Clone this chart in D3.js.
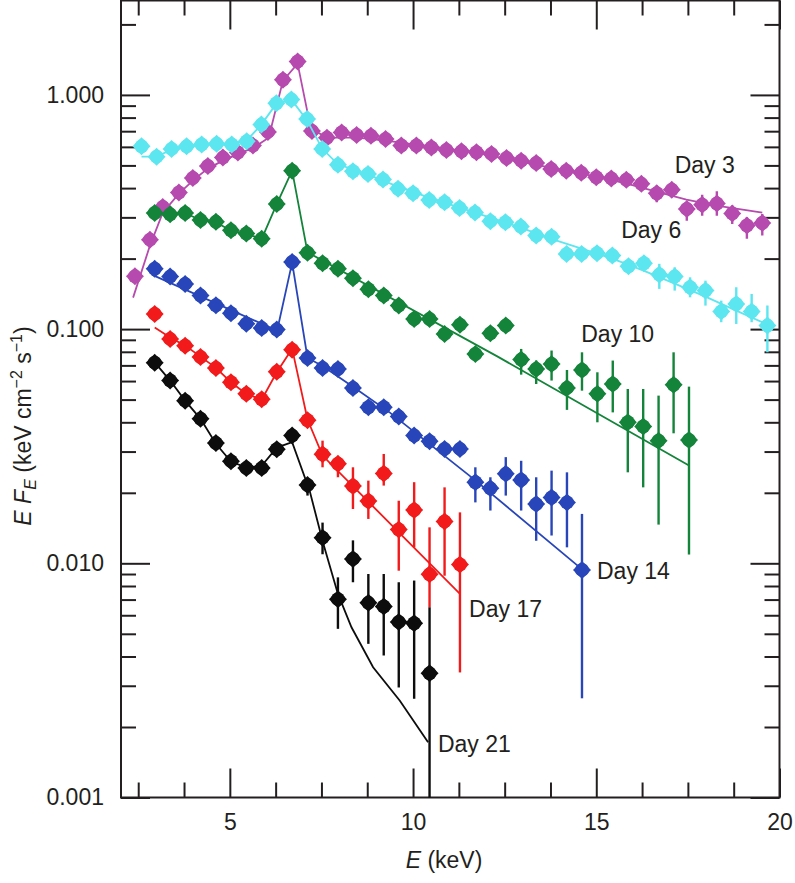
<!DOCTYPE html>
<html><head><meta charset="utf-8">
<script src="https://cdn.jsdelivr.net/npm/d3@7"></script>
<style>
body{margin:0;background:#fff}
svg{display:block}
text{font-family:"Liberation Sans",Arial,Helvetica,sans-serif;fill:#231f20}
</style>
</head><body><div id="chart"></div>
<script>
// ---------------- DATA ----------------
const seriesNames = ["Day 3","Day 6","Day 10","Day 14","Day 17","Day 21"];

// Day 3
const E3 = [2.41,2.82,3.17,3.61,3.99,4.40,4.81,5.22,5.63,6.04,6.45,6.85,7.24,7.65,8.05,8.46,8.85,9.25,9.68,10.09,10.50,10.91,11.32,11.73,12.14,12.55,12.95,13.36,13.77,14.18,14.59,15.00,15.41,15.82,16.23,16.65,17.06,17.47,17.89,18.29,18.71,19.11,19.53];
const V3 = [0.168,0.241,0.332,0.383,0.442,0.497,0.540,0.568,0.608,0.695,1.160,1.388,0.702,0.656,0.691,0.675,0.669,0.649,0.608,0.608,0.596,0.582,0.574,0.569,0.560,0.538,0.524,0.512,0.483,0.475,0.465,0.445,0.440,0.434,0.417,0.380,0.394,0.326,0.340,0.344,0.312,0.277,0.284];
const ERR3 = [[35,0.410,0.348],[36,0.418,0.366],[37,0.348,0.2905],[38,0.375,0.305],[39,0.388,0.305],[40,0.337,0.281],[41,0.300,0.243],[42,0.310,0.251]];
const M3E = [2.36,2.82,3.17,3.61,4.02,4.40,4.81,5.25,5.65,6.06,6.45,6.85,7.21,7.65,8.46,9.25,10.10,10.92,11.71,12.53,13.34,14.16,15.01,15.83,16.64,17.46,18.28,19.13,19.53];
const M3V = [0.1363,0.2273,0.3144,0.379,0.4348,0.4845,0.524,0.5615,0.5957,0.657,1.151,1.360,0.718,0.657,0.657,0.638,0.614,0.590,0.567,0.535,0.504,0.475,0.448,0.418,0.3865,0.357,0.337,0.321,0.314];

// Day 6
const E6 = [2.59,3.00,3.41,3.82,4.23,4.64,5.05,5.46,5.86,6.27,6.68,7.11,7.52,7.95,8.36,8.77,9.18,9.59,10.00,10.44,10.86,11.27,11.69,12.11,12.52,12.94,13.36,13.78,14.19,14.60,15.02,15.44,15.88,16.30,16.72,17.14,17.56,17.98,18.41,18.82,19.24,19.67];
const V6 = [0.603,0.545,0.588,0.603,0.614,0.618,0.614,0.634,0.747,0.921,0.955,0.790,0.588,0.503,0.472,0.460,0.435,0.397,0.380,0.356,0.348,0.329,0.315,0.289,0.286,0.274,0.251,0.248,0.2095,0.2095,0.211,0.206,0.1854,0.191,0.1709,0.1676,0.1509,0.146,0.119,0.128,0.119,0.1035];
const ERR6 = [[34,0.190,0.1485],[35,0.1836,0.146],[36,0.1664,0.1367],[37,0.161,0.126],[38,0.1323,0.107],[39,0.1509,0.1052],[40,0.1413,0.107],[41,0.126,0.0796]];
const M6E = [2.59,3.00,3.41,3.82,4.23,4.64,5.05,5.46,5.86,6.27,6.68,7.11,7.52,7.95,8.77,9.59,10.44,11.27,12.11,12.94,13.75,14.60,15.44,16.29,17.14,17.98,18.82,19.67];
const M6V = [0.545,0.545,0.584,0.6015,0.614,0.6196,0.6196,0.638,0.747,0.918,0.955,0.777,0.590,0.5055,0.4567,0.4061,0.3642,0.3301,0.2993,0.2713,0.2434,0.2207,0.200,0.1777,0.1564,0.1376,0.1199,0.1045];

// common energy grid for Days 10-21
const EG = [2.95,3.37,3.78,4.20,4.62,5.03,5.45,5.87,6.28,6.70,7.12,7.53,7.95,8.36,8.78,9.20,9.61,10.03,10.45,10.86,11.28,11.70,12.11,12.53,12.95,13.36,13.78,14.20,14.61,15.03,15.45,15.86,16.28,16.70,17.11,17.53];

// Day 10
const E10 = EG.slice(0,36);
const V10 = [0.313,0.309,0.313,0.292,0.287,0.264,0.256,0.243,0.342,0.475,0.212,0.191,0.181,0.165,0.148,0.139,0.126,0.1105,0.1105,0.0954,0.1045,0.0783,0.0959,0.1035,0.0741,0.0676,0.0710,0.0561,0.0669,0.0529,0.0583,0.0400,0.0384,0.0334,0.0578,0.0336];
const ERR10 = [[24,0.0823,0.0639],[25,0.0734,0.0583],[26,0.0810,0.0603],[27,0.0669,0.0452],[28,0.0796,0.0546],[29,0.0654,0.040],[30,0.0734,0.0441],[31,0.0555,0.02446],[32,0.0555,0.0211],[33,0.052,0.01463],[34,0.0796,0.0359],[35,0.0568,0.0109]];
const M10E = [2.87,3.37,3.78,4.20,4.62,5.03,5.45,5.87,6.28,6.70,7.12,12.31,17.53];
const M10V = [0.3125,0.3087,0.313,0.292,0.2858,0.2634,0.2549,0.243,0.342,0.475,0.2128,0.0763,0.02614];

// Day 14
const E14 = EG.slice(0,29);
const V14 = [0.181,0.1676,0.156,0.139,0.1265,0.117,0.1055,0.1010,0.0995,0.1935,0.0753,0.0683,0.0676,0.0561,0.0464,0.0464,0.0423,0.0351,0.0332,0.0308,0.0308,0.0222,0.0209,0.0241,0.0227,0.0179,0.0191,0.0182,0.00937];
const ERR14 = [[21,0.0257,0.0182],[22,0.0233,0.0168],[23,0.0284,0.01946],[24,0.0274,0.0168],[25,0.0233,0.01248],[26,0.02487,0.01314],[27,0.02446,0.0117],[28,0.01625,0.002652]];
const M14E = [2.87,6.29,6.70,7.12,7.52,8.36,9.36,11.71,14.63];
const M14V = [0.1709,0.0985,0.1923,0.0753,0.0698,0.0568,0.0441,0.02254,0.00937];

// Day 17
const E17 = EG.slice(0,21);
const V17 = [0.1161,0.0908,0.0850,0.0760,0.0683,0.0593,0.0529,0.0502,0.0657,0.0817,0.0408,0.0292,0.0266,0.02137,0.01846,0.0242,0.01395,0.0169,0.00897,0.0151,0.00988];
const ERR17 = [[11,0.0334,0.0257],[12,0.0284,0.0233],[13,0.0257,0.01706],[14,0.02254,0.01547],[15,0.0293,0.02147],[16,0.0185,0.0093],[17,0.0222,0.0117],[18,0.01424,0.00649],[19,0.0211,0.00885],[20,0.0165,0.00342]];
const M17E = [2.95,3.37,3.78,4.20,4.62,5.03,5.45,5.87,6.28,6.70,7.12,7.53,11.28];
const M17V = [0.1015,0.092,0.085,0.0763,0.0683,0.0593,0.0529,0.050,0.0654,0.0825,0.0411,0.02884,0.0074];

// Day 21
const E21 = EG.slice(0,19);
const V21 = [0.0719,0.0603,0.0495,0.0414,0.0326,0.0273,0.0255,0.0255,0.0307,0.0351,0.0216,0.01287,0.00703,0.01044,0.00678,0.00654,0.00562,0.00555,0.00339];
const ERR21 = [[10,0.0230,0.01946],[11,0.01492,0.01093],[12,0.00871,0.00525],[13,0.01253,0.0083],[14,0.0090,0.00453],[15,0.0090,0.00404],[16,0.0083,0.00295],[17,0.00844,0.00264],[18,0.00649,0.0008]];
const M21E = [2.91,3.37,3.78,4.20,4.62,5.03,5.45,5.87,6.28,6.70,7.18,7.54,7.95,8.32,8.91,9.64,10.41];
const M21V = [0.0734,0.0603,0.0495,0.0414,0.0324,0.0272,0.0256,0.0261,0.0312,0.0329,0.02037,0.01229,0.0074,0.00533,0.0036,0.00259,0.00172];

// label anchors (E, value)
const labelE = [17.14,15.68,14.59,15.02,11.53,10.68];
const labelV = [0.466,0.246,0.0878,0.0086,0.00592,0.00157];

// axis ticks
const xMajor = [5,10,15,20];
const xMinor = [2.5,3.75,6.25,7.5,8.75,11.25,12.5,13.75,16.25,17.5,18.75];
const yMajor = [0.001,0.01,0.1,1];
const yMajorLabels = ["0.001","0.010","0.100","1.000"];

// ---------------- STYLE ----------------
const colors = ["#b64aae","#5ce6f0","#13843a","#2846ba","#f21a1a","#0d0d0d"];
const axisColor = "#231f20";
const W = 795, H = 883;
const L = 121, R = 779.5, T = 0.5, B = 797.5;

const x = d3.scaleLinear().domain([2.03,20]).range([L,R]);
const y = d3.scaleLog().domain([0.001,2.53]).range([B,T]);

const yMinor = [];
[0.001,0.01,0.1,1].forEach(d=>{for(let m=2;m<=9;m++){const v=d*m; if(v<=2.53) yMinor.push(v);}});

const svg = d3.select("#chart").append("svg").attr("width",W).attr("height",H);

svg.append("defs").append("clipPath").attr("id","clip")
  .append("rect").attr("x",L).attr("y",T).attr("width",R-L).attr("height",B-T);

function styleAxis(g){
  g.select(".domain").remove();
  g.selectAll("line").attr("stroke",axisColor).attr("stroke-width",2);
  g.selectAll("text").attr("font-size",23).attr("fill",axisColor)
   .attr("font-family",'"Liberation Sans",Arial,Helvetica,sans-serif');
}

// axes
svg.append("g").attr("transform",`translate(${L},0)`)
  .call(d3.axisLeft(y).tickValues(yMajor).tickSize(-29).tickPadding(17).tickFormat((d,i)=>yMajorLabels[i]))
  .call(styleAxis);
svg.append("g").attr("transform",`translate(${L},0)`)
  .call(d3.axisLeft(y).tickValues(yMinor).tickSize(-15).tickFormat(""))
  .call(styleAxis);
svg.append("g").attr("transform",`translate(${R},0)`)
  .call(d3.axisRight(y).tickValues(yMajor).tickSize(-29).tickFormat(""))
  .call(styleAxis);
svg.append("g").attr("transform",`translate(${R},0)`)
  .call(d3.axisRight(y).tickValues(yMinor).tickSize(-15).tickFormat(""))
  .call(styleAxis);
svg.append("g").attr("transform",`translate(0,${B})`)
  .call(d3.axisBottom(x).tickValues(xMajor).tickSize(-29).tickPadding(16))
  .call(styleAxis);
svg.append("g").attr("transform",`translate(0,${B})`)
  .call(d3.axisBottom(x).tickValues(xMinor).tickSize(-15).tickFormat(""))
  .call(styleAxis);
svg.append("g").attr("transform",`translate(0,${T})`)
  .call(d3.axisTop(x).tickValues(xMajor).tickSize(-29).tickFormat(""))
  .call(styleAxis);
svg.append("g").attr("transform",`translate(0,${T})`)
  .call(d3.axisTop(x).tickValues(xMinor).tickSize(-15).tickFormat(""))
  .call(styleAxis);

// frame
svg.append("rect").attr("x",L).attr("y",T).attr("width",R-L).attr("height",B-T)
  .attr("fill","none").attr("stroke",axisColor).attr("stroke-width",2);

// axis titles
const xt = svg.append("text").attr("x",444).attr("y",868).attr("text-anchor","middle").attr("font-size",23);
xt.append("tspan").attr("font-style","italic").text("E");
xt.append("tspan").text(" (keV)");

const yt = svg.append("text").attr("transform","translate(31,426) rotate(-90)")
  .attr("text-anchor","middle").attr("font-size",23);
yt.append("tspan").attr("font-style","italic").text("E F");
yt.append("tspan").attr("font-style","italic").attr("font-size",16).attr("dy",5).text("E");
yt.append("tspan").attr("dy",-5).text(" (keV cm");
yt.append("tspan").attr("font-size",16).attr("dy",-9).text("\u22122");
yt.append("tspan").attr("dy",9).text(" s");
yt.append("tspan").attr("font-size",16).attr("dy",-9).text("\u22121");
yt.append("tspan").attr("dy",9).text(")");

// series
const series = [
  {E:E3,V:V3,err:ERR3,mE:M3E,mV:M3V},
  {E:E6,V:V6,err:ERR6,mE:M6E,mV:M6V},
  {E:E10,V:V10,err:ERR10,mE:M10E,mV:M10V},
  {E:E14,V:V14,err:ERR14,mE:M14E,mV:M14V},
  {E:E17,V:V17,err:ERR17,mE:M17E,mV:M17V},
  {E:E21,V:V21,err:ERR21,mE:M21E,mV:M21V}
];

const plot = svg.append("g").attr("clip-path","url(#clip)");
const line = d3.line().x(d=>x(d[0])).y(d=>y(d[1]));

series.forEach((s,i)=>{
  const c = colors[i];
  const g = plot.append("g");
  g.append("path").datum(s.mE.map((e,j)=>[e,s.mV[j]]))
    .attr("d",line).attr("fill","none").attr("stroke",c).attr("stroke-width",1.8);
  g.selectAll("line.err").data(s.err).enter().append("line")
    .attr("x1",d=>x(s.E[d[0]])).attr("x2",d=>x(s.E[d[0]]))
    .attr("y1",d=>y(d[1])).attr("y2",d=>y(Math.max(d[2],0.0005)))
    .attr("stroke",c).attr("stroke-width",2.4);
  const pts = s.E.map((e,j)=>[e,s.V[j]]);
  const m = g.selectAll("g.pt").data(pts).enter().append("g")
    .attr("transform",d=>`translate(${x(d[0])},${y(d[1])})`);
  m.append("path").attr("d","M-9,0L0,-9L9,0L0,9Z").attr("fill",c);
  m.append("circle").attr("r",7).attr("fill",c);
  svg.append("text").attr("x",x(labelE[i])).attr("y",y(labelV[i]))
    .attr("font-size",23).attr("fill","#111").text(seriesNames[i]);
});
</script>
</body></html>
